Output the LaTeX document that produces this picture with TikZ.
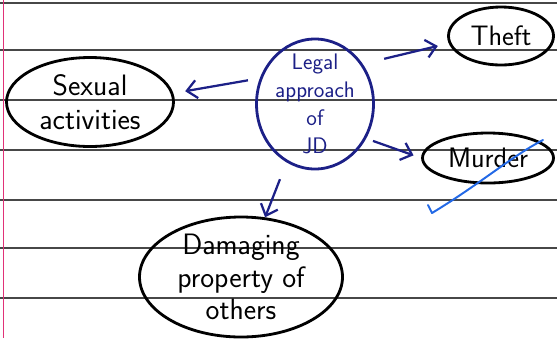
\documentclass[tikz,border=0pt]{standalone}
\usepackage{tikz}
\usetikzlibrary{arrows.meta}
\usetikzlibrary{shapes.geometric}

\definecolor{inkblue}{RGB}{28,32,135}
\definecolor{tickblue}{RGB}{35,105,230}
\definecolor{margin}{RGB}{225,50,120}

\begin{document}
\begin{tikzpicture}[font=\sffamily]
\useasboundingbox (0,0) rectangle (13.925,-8.45);
\tikzstyle{ruled}=[black!72, line width=1.1pt]
\tikzstyle{bubble}=[ellipse, draw, line width=2pt, align=center, inner sep=-0.2cm]
\tikzstyle{link}=[inkblue, line width=1.6pt, -{Straight Barb[length=2.5mm,width=4.5mm]}]

% ruled paper
\foreach \y in {-0.075,-1.25,-2.5,-3.75,-5,-6.2,-7.45}
  \draw[ruled] (0,\y) -- (13.925,\y);
\draw[margin, line width=1.2pt] (0.09,0) -- (0.09,-8.45);

\node[bubble, draw=inkblue, text=inkblue, minimum width = 2.925cm,
    minimum height = 3.25cm, font=\sffamily\fontsize{16}{20}\selectfont] (legal) at (7.875,-2.6) {Legal\\approach\\of\\JD};

\node[bubble, minimum width = 2.625cm,
    minimum height = 1.45cm, font=\sffamily\fontsize{20}{23}\selectfont] (theft) at (12.525,-0.9) {Theft};
\node[bubble, minimum width = 4.175cm,
    minimum height = 2.225cm, font=\sffamily\fontsize{21}{24}\selectfont] (sexual) at (2.25,-2.55) {Sexual\\activities};
\node[bubble, minimum width = 3.275cm,
    minimum height = 1.25cm, font=\sffamily\fontsize{20}{24}\selectfont] (murder) at (12.2,-3.95) {Murder};
\node[bubble, minimum width = 5.075cm,
    minimum height = 3cm, font=\sffamily\fontsize{21}{23}\selectfont] (damage) at (6.025,-6.925) {Damaging\\property of\\others};

\draw[link, shorten <=0.3cm, shorten >=0.3cm] (legal.155) -- (sexual.6);
\draw[link, shorten <=0.55cm, shorten >=0.28cm] (legal.40) -- (theft.188);
\draw[link, shorten <=0.18cm, shorten >=0.2cm] (legal.-34) -- (murder.180);
\draw[link, shorten <=0.45cm] (legal.244) -- (damage.68);

% tick
\draw[tickblue, line width=1.4pt, line cap=round, line join=round] (10.7,-5.125) -- (10.8,-5.325)
  .. controls (12,-4.6) and (12.8,-3.9) .. (13.575,-3.5);
\end{tikzpicture}
\end{document}
